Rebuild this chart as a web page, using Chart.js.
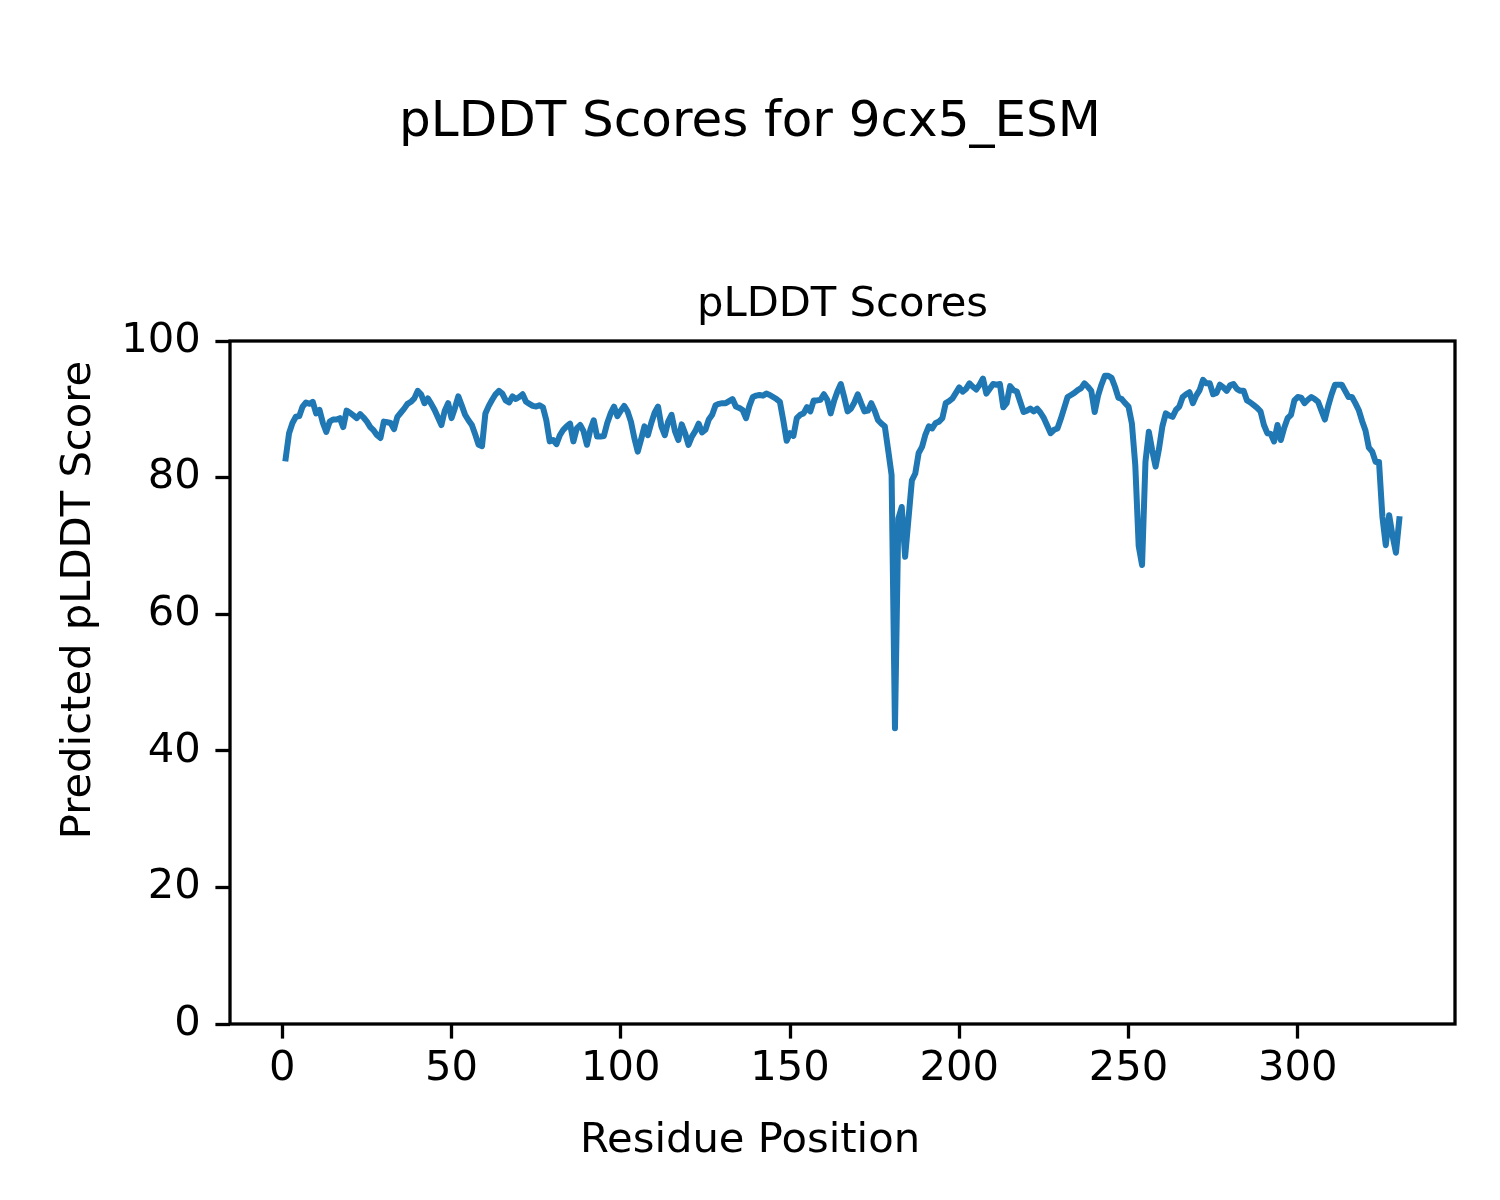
<!DOCTYPE html>
<html>
<head>
<meta charset="utf-8">
<title>pLDDT Scores for 9cx5_ESM</title>
<script src="https://cdn.jsdelivr.net/npm/chart.js@4.4.1/dist/chart.umd.min.js"></script>
<style>
  body { margin: 0; background: #fff; }
  #wrap { width: 1500px; height: 1200px; }
</style>
</head>
<body>
<div id="wrap"><canvas id="plddtChart" width="1500" height="1200"></canvas></div>
<script>
// figure texts
const figTitle = 'pLDDT Scores for 9cx5_ESM';
const axesTitle = 'pLDDT Scores';
const xLabel = 'Residue Position';
const yLabel = 'Predicted pLDDT Score';

// tick values
const xTicks = [0, 50, 100, 150, 200, 250, 300];
const yTicks = [0, 20, 40, 60, 80, 100];

// first residue number, scores follow one per residue
const firstResidue = 1;
const plddt = [
  82.8, 86.5, 88.0, 88.9, 89.0, 90.4, 91.0, 90.8, 91.1, 89.4,
  89.9, 88.0, 86.7, 88.2, 88.5, 88.5, 88.7, 87.4, 89.8, 89.5,
  89.1, 88.7, 89.3, 88.8, 88.2, 87.4, 86.9, 86.2, 85.8, 88.2,
  88.1, 88.0, 87.1, 88.9, 89.5, 90.1, 90.8, 91.1, 91.6, 92.7,
  92.2, 90.9, 91.6, 90.8, 89.9, 88.8, 87.7, 89.8, 90.9, 88.7,
  90.2, 91.9, 90.6, 89.2, 88.4, 87.7, 86.3, 84.8, 84.6, 89.4,
  90.5, 91.4, 92.2, 92.7, 92.3, 91.3, 91.0, 91.9, 91.5, 91.8,
  92.2, 91.1, 90.8, 90.5, 90.4, 90.6, 90.3, 88.4, 85.3, 85.5,
  84.9, 86.2, 87.0, 87.5, 87.9, 85.3, 87.2, 87.7, 86.8, 84.8,
  87.0, 88.4, 86.0, 86.0, 86.1, 88.0, 89.4, 90.4, 89.0, 89.8,
  90.5, 89.7, 88.2, 85.8, 83.8, 85.6, 87.5, 86.2, 88.0, 89.5,
  90.4, 87.5, 86.2, 88.2, 89.2, 86.8, 85.5, 87.8, 86.5, 84.8,
  86.0, 86.8, 87.9, 86.6, 87.0, 88.5, 89.2, 90.6, 90.8, 90.9,
  90.9, 91.2, 91.5, 90.4, 90.2, 89.9, 88.7, 90.5, 91.8, 92.0,
  92.1, 92.0, 92.3, 92.1, 91.8, 91.5, 91.1, 88.4, 85.4, 86.5,
  86.1, 88.7, 89.2, 89.4, 90.3, 89.7, 91.3, 91.3, 91.4, 92.2,
  91.4, 89.4, 91.2, 92.6, 93.7, 91.8, 89.7, 90.1, 91.0, 92.2,
  90.9, 89.7, 89.8, 90.9, 89.8, 88.4, 87.9, 87.5, 84.0, 80.4,
  43.3, 74.0, 75.7, 68.4, 74.0, 79.6, 80.6, 83.6, 84.5, 86.3,
  87.5, 87.2, 88.0, 88.2, 88.7, 90.9, 91.2, 91.6, 92.4, 93.2,
  92.6, 93.0, 93.8, 93.3, 92.9, 93.6, 94.5, 92.3, 93.0, 93.7,
  93.6, 93.7, 90.3, 90.9, 93.4, 92.8, 92.6, 91.1, 89.6, 89.8,
  90.1, 89.7, 90.1, 89.5, 88.7, 87.6, 86.5, 87.0, 87.2, 88.6,
  90.2, 91.8, 92.1, 92.4, 92.8, 93.1, 93.8, 93.3, 92.7, 89.6,
  92.0, 93.6, 94.9, 94.9, 94.6, 93.3, 91.7, 91.5, 90.9, 90.4,
  87.9, 81.8, 70.0, 67.2, 82.3, 86.7, 84.0, 81.6, 84.2, 87.5,
  89.4, 89.1, 88.9, 89.9, 90.4, 91.8, 92.2, 92.5, 90.9, 92.0,
  92.8, 94.3, 93.8, 93.8, 92.2, 92.4, 93.6, 93.2, 92.7, 93.5,
  93.7, 93.0, 92.7, 92.7, 91.3, 91.0, 90.6, 90.2, 89.7, 87.7,
  86.5, 86.4, 85.3, 87.7, 85.5, 87.3, 88.7, 89.2, 91.3, 91.8,
  91.7, 90.9, 91.4, 91.8, 91.5, 91.1, 89.8, 88.5, 90.5, 92.2,
  93.6, 93.6, 93.6, 92.7, 91.8, 91.8, 90.9, 89.9, 88.3, 86.9,
  84.4, 83.8, 82.3, 82.3, 74.3, 70.1, 74.5, 71.5, 69.0, 73.9
];

const points = plddt.map((v, i) => ({ x: firstResidue + i, y: v }));

const FONT = '"DejaVu Sans", Verdana, sans-serif';

// frame + figure-level texts (matplotlib style)
const figureText = {
  id: 'figureText',
  afterDraw(chart) {
    const ctx = chart.ctx;
    const a = chart.chartArea;
    ctx.save();
    ctx.strokeStyle = '#000';
    ctx.lineWidth = 3.3;
    ctx.strokeRect(a.left, a.top, a.right - a.left, a.bottom - a.top);

    ctx.fillStyle = '#000';
    ctx.textAlign = 'center';
    ctx.textBaseline = 'alphabetic';
    ctx.font = '50px ' + FONT;
    ctx.fillText(figTitle, 750, 136);

    ctx.font = '41.7px ' + FONT;
    ctx.fillText(axesTitle, (a.left + a.right) / 2, 316);
    ctx.fillText(xLabel, 750, 1152);

    ctx.translate(90, 600);
    ctx.rotate(-Math.PI / 2);
    ctx.fillText(yLabel, 0, 0);
    ctx.restore();
  }
};

const tickFont = { family: FONT, size: 41.7 };

new Chart(document.getElementById('plddtChart').getContext('2d'), {
  type: 'line',
  data: {
    datasets: [{
      label: 'pLDDT',
      data: points,
      borderColor: '#1f77b4',
      borderWidth: 6,
      pointRadius: 0,
      tension: 0,
      fill: false,
      borderJoinStyle: 'round',
      borderCapStyle: 'square'
    }]
  },
  options: {
    responsive: false,
    animation: false,
    devicePixelRatio: 1,
    layout: { padding: { left: 0, top: 341, right: 45, bottom: 0 } },
    plugins: {
      legend: { display: false },
      tooltip: { enabled: false },
      title: { display: false }
    },
    scales: {
      x: {
        type: 'linear',
        min: -15.45,
        max: 346.45,
        afterBuildTicks: axis => { axis.ticks = xTicks.map(v => ({ value: v })); },
        afterFit: scale => { scale.height = 176; },
        border: { display: false },
        grid: {
          drawOnChartArea: false,
          drawTicks: true,
          tickLength: 14.6,
          tickWidth: 3.3,
          tickColor: '#000'
        },
        ticks: { color: '#000', font: tickFont, padding: 6, maxRotation: 0 }
      },
      y: {
        type: 'linear',
        min: 0,
        max: 100,
        afterBuildTicks: axis => { axis.ticks = yTicks.map(v => ({ value: v })); },
        afterFit: scale => { scale.width = 230; },
        border: { display: false },
        grid: {
          drawOnChartArea: false,
          drawTicks: true,
          tickLength: 14.6,
          tickWidth: 3.3,
          tickColor: '#000'
        },
        ticks: { color: '#000', font: tickFont, padding: 14.6 }
      }
    }
  },
  plugins: [figureText]
});
</script>
</body>
</html>
